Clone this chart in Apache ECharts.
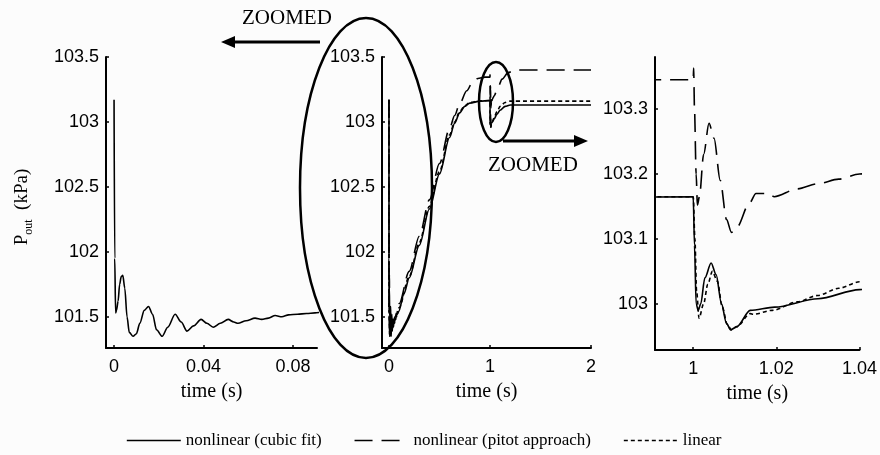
<!DOCTYPE html>
<html><head><meta charset="utf-8">
<script src="https://cdn.jsdelivr.net/npm/echarts@6/dist/echarts.min.js"></script>
<style>html,body{margin:0;padding:0;background:#fcfcfc}#c{width:880px;height:455px}</style>
</head><body><div id="c"></div>
<script>
const seriesNames = ['nonlinear (cubic fit)', 'nonlinear (pitot approach)', 'linear'];

// time (s) and P_out (kPa) for each model
const cubicT = [0, 0.0003, 0.0007, 0.0011, 0.0018, 0.0025, 0.0032, 0.0039, 0.0048, 0.0058, 0.0068, 0.0085, 0.0100, 0.0115, 0.0135, 0.0154, 0.0172, 0.0190, 0.0215, 0.0240, 0.0273, 0.0300, 0.0326, 0.0355, 0.0389, 0.0415, 0.0443, 0.0475, 0.0510, 0.0535, 0.0554, 0.0590, 0.0630, 0.0660, 0.0690, 0.0720, 0.0750, 0.0780, 0.0820, 0.0860, 0.0898, 0.095, 0.15, 0.2, 0.3, 0.4, 0.5, 0.6, 0.65, 0.7, 0.75, 0.8, 0.9, 1.0, 1.0003, 1.0007, 1.0012, 1.0018, 1.0028, 1.0043, 1.0055, 1.0068, 1.008, 1.009, 1.0105, 1.0137, 1.0196, 1.03, 1.04, 1.07, 1.1, 1.15, 1.2, 1.3, 2.0];
const cubicP = [103.17, 101.95, 101.53, 101.55, 101.62, 101.75, 101.81, 101.82, 101.72, 101.5, 101.38, 101.35, 101.37, 101.45, 101.55, 101.58, 101.52, 101.40, 101.35, 101.42, 101.52, 101.46, 101.39, 101.43, 101.48, 101.45, 101.42, 101.45, 101.48, 101.46, 101.45, 101.47, 101.49, 101.48, 101.49, 101.51, 101.50, 101.515, 101.52, 101.525, 101.53, 101.54, 101.68, 101.8, 102.05, 102.33, 102.6, 102.88, 102.99, 103.07, 103.12, 103.145, 103.16, 103.165, 103.09, 103.0, 102.99, 103.0, 103.04, 103.063, 103.045, 103.0, 102.97, 102.96, 102.965, 102.99, 102.995, 103.008, 103.022, 103.06, 103.09, 103.12, 103.13, 103.13, 103.13];

const pitotT = [0, 0.0007, 0.0085, 0.03, 0.06, 0.1, 0.2, 0.3, 0.4, 0.5, 0.6, 0.65, 0.7, 0.77, 0.83, 0.88, 0.95, 1.0, 1.0001, 1.0003, 1.0007, 1.001, 1.0015, 1.0025, 1.0038, 1.005, 1.0065, 1.008, 1.0092, 1.0105, 1.0135, 1.0151, 1.018, 1.0195, 1.025, 1.03, 1.035, 1.04, 1.08, 1.12, 1.18, 1.25, 2.0];
const pitotP = [103.17, 101.53, 101.35, 101.43, 101.5, 101.6, 101.85, 102.12, 102.4, 102.68, 102.95, 103.05, 103.14, 103.24, 103.31, 103.335, 103.345, 103.345, 103.363, 103.3, 103.2, 103.152, 103.165, 103.23, 103.278, 103.255, 103.19, 103.13, 103.11, 103.118, 103.155, 103.17, 103.17, 103.165, 103.177, 103.185, 103.192, 103.2, 103.27, 103.33, 103.38, 103.40, 103.40];

const linearT = [0, 0.0007, 0.0085, 0.03, 0.06, 0.1, 0.2, 0.3, 0.4, 0.5, 0.6, 0.65, 0.7, 0.75, 0.8, 0.9, 1.0, 1.0004, 1.0008, 1.0014, 1.0025, 1.0035, 1.0046, 1.0058, 1.007, 1.0082, 1.0092, 1.0105, 1.0137, 1.0145, 1.019, 1.025, 1.03, 1.035, 1.04, 1.07, 1.1, 1.15, 1.2, 2.0];
const linearP = [103.17, 101.53, 101.35, 101.42, 101.49, 101.57, 101.81, 102.07, 102.35, 102.62, 102.9, 103.0, 103.08, 103.125, 103.15, 103.162, 103.165, 103.1, 103.02, 102.978, 103.0, 103.03, 103.05, 103.035, 102.995, 102.968, 102.96, 102.965, 102.985, 102.984, 102.99, 103.003, 103.013, 103.024, 103.034, 103.08, 103.12, 103.15, 103.16, 103.16];

// tick labels
const xTicks1 = [0, 0.04, 0.08];
const xTicks2 = [0, 1, 2];
const xTicks3 = [1, 1.02, 1.04];
const yTicks12 = [101.5, 102, 102.5, 103, 103.5];
const yTicks3 = [103, 103.1, 103.2, 103.3];

const zip = (t, p) => t.map((v, i) => [v, p[i]]);
const cubic = zip(cubicT, cubicP), pitot = zip(pitotT, pitotP), lin = zip(linearT, linearP);

const SANS = 'Liberation Sans', SERIF = 'Liberation Serif';
function xAx(grid, min, max, ticks) {
  return {
    gridIndex: grid, type: 'value', min: min, max: max,
    name: 'time (s)', nameLocation: 'middle', nameGap: 34,
    nameTextStyle: {fontFamily: SERIF, fontSize: 20, color: '#000'},
    axisLine: {onZero: false, lineStyle: {color: '#000', width: 2}},
    axisTick: {inside: true, length: 3, customValues: ticks, lineStyle: {color: '#000', width: 1.5}},
    axisLabel: {customValues: ticks, margin: 10, fontFamily: SANS, fontSize: 18, color: '#000'},
    splitLine: {show: false}
  };
}
function yAx(grid, min, max, ticks) {
  return {
    gridIndex: grid, type: 'value', min: min, max: max,
    axisLine: {show: true, onZero: false, lineStyle: {color: '#000', width: 2}},
    axisTick: {show: true, inside: true, length: 3, customValues: ticks, lineStyle: {color: '#000', width: 1.5}},
    axisLabel: {customValues: ticks, margin: 7, fontFamily: SANS, fontSize: 18, color: '#000'},
    splitLine: {show: false}
  };
}
const styles = [
  {color: '#000', width: 1.6, type: 'solid'},
  {color: '#000', width: 1.6, type: [18, 9]},
  {color: '#000', width: 1.6, type: [4, 3]}
];
function ser(name, data, idx, styleIdx) {
  return {
    name: name, type: 'line', data: data, xAxisIndex: idx, yAxisIndex: idx,
    showSymbol: false, symbol: 'none', smooth: 0.3, smoothMonotone: 'x',
    lineStyle: styles[styleIdx], itemStyle: {color: '#000'}, animation: false, clip: true
  };
}
const hidden = {color: 'rgba(0,0,0,0)', borderWidth: 0, borderColor: 'rgba(0,0,0,0)'};

const chart = echarts.init(document.getElementById('c'), null, {renderer: 'canvas'});
chart.setOption({
  backgroundColor: '#fcfcfc',
  animation: false,
  grid: [
    {left: 106, top: 57, width: 211, height: 291},
    {left: 382, top: 57, width: 209, height: 291},
    {left: 655, top: 57, width: 208, height: 293}
  ],
  xAxis: [xAx(0, -0.0036, 0.0907, xTicks1), xAx(1, -0.069, 2, xTicks2), xAx(2, 0.9908, 1.04, xTicks3)],
  yAxis: [yAx(0, 101.26, 103.5, yTicks12), yAx(1, 101.26, 103.5, yTicks12), yAx(2, 102.929, 103.38, yTicks3)],
  legend: {
    data: seriesNames.map((n, i) => ({name: n, itemStyle: hidden, lineStyle: {color: '#000', width: 1.6, type: styles[i].type}})),
    left: 121, top: 427, itemWidth: 54, itemHeight: 12, itemGap: 32,
    textStyle: {fontFamily: SERIF, fontSize: 17, color: '#000'}
  },
  series: [
    ser(seriesNames[0], cubic, 0, 0),
    ser(seriesNames[0], cubic, 1, 0),
    ser(seriesNames[1], pitot, 1, 1),
    ser(seriesNames[2], lin, 1, 2),
    ser(seriesNames[0], cubic, 2, 0),
    ser(seriesNames[1], pitot, 2, 1),
    ser(seriesNames[2], lin, 2, 2)
  ],
  graphic: [
    {type: 'text', left: 242, top: 8, style: {text: 'ZOOMED', fontFamily: SERIF, fontSize: 21, fill: '#000'}},
    {type: 'line', shape: {x1: 232, y1: 42, x2: 320, y2: 42}, style: {stroke: '#000', lineWidth: 3}},
    {type: 'polygon', shape: {points: [[221, 42], [235, 36], [235, 48]]}, style: {fill: '#000'}},
    {type: 'ellipse', shape: {cx: 366, cy: 188, rx: 66, ry: 170}, style: {stroke: '#000', fill: null, lineWidth: 2.5}},
    {type: 'ellipse', shape: {cx: 496, cy: 102, rx: 17, ry: 40}, style: {stroke: '#000', fill: null, lineWidth: 2.5}},
    {type: 'line', shape: {x1: 503, y1: 141, x2: 576, y2: 141}, style: {stroke: '#000', lineWidth: 3}},
    {type: 'polygon', shape: {points: [[588, 141], [574, 135], [574, 147]]}, style: {fill: '#000'}},
    {type: 'text', left: 488, top: 155, style: {text: 'ZOOMED', fontFamily: SERIF, fontSize: 21, fill: '#000'}},
    {type: 'text', x: 22, y: 207, rotation: Math.PI / 2,
     style: {text: '{p|P}{s|out}{p|  (kPa)}', align: 'center', verticalAlign: 'middle',
       rich: {p: {fontFamily: SERIF, fontSize: 19, fill: '#000', lineHeight: 26},
              s: {fontFamily: SERIF, fontSize: 12, fill: '#000', lineHeight: 26, verticalAlign: 'bottom'}}}}
  ]
});
</script></body></html>
